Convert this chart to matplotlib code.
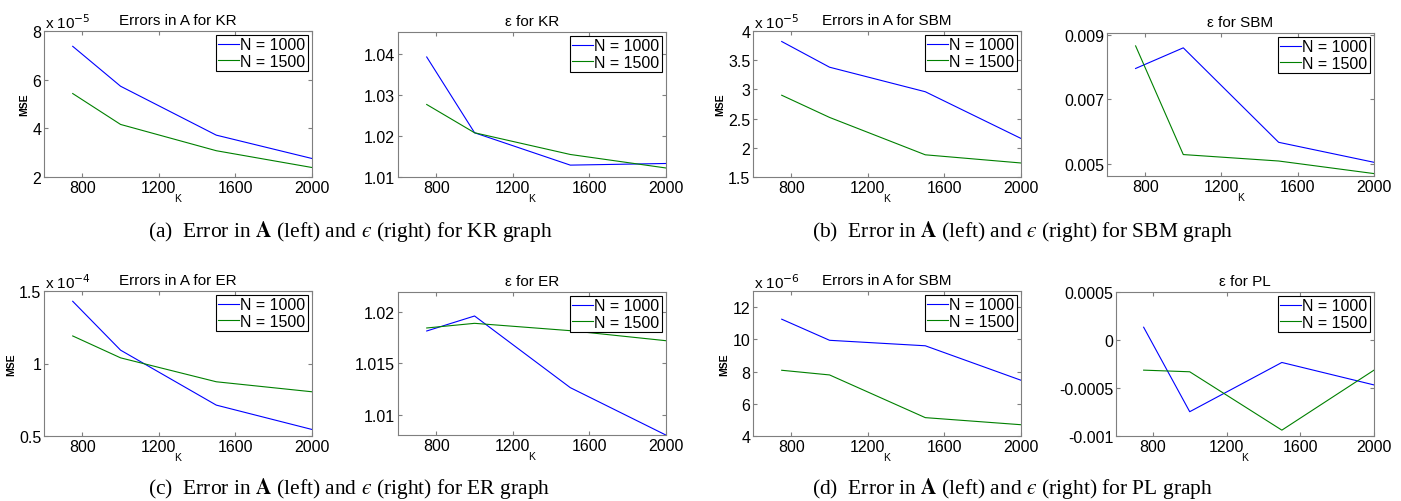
import matplotlib
matplotlib.use("Agg")
import matplotlib.pyplot as plt
from matplotlib.ticker import FuncFormatter

plt.rcParams['font.family'] = ['Liberation Sans', 'DejaVu Sans']
plt.rcParams['mathtext.fontset'] = 'stix'

# number of clusters K on the x axis
k_values = [750, 1000, 1500, 2000]
legend_labels = ["N = 1000", "N = 1500"]

# KR graph (MSE in units of 1e-5)
kr_mse_1000 = [7.37, 5.73, 3.72, 2.76]
kr_mse_1500 = [5.43, 4.16, 3.08, 2.39]
kr_eps_1000 = [1.0393, 1.0208, 1.0129, 1.0133]
kr_eps_1500 = [1.0277, 1.0208, 1.0155, 1.0122]

# SBM graph (MSE in units of 1e-5)
sbm_mse_1000 = [3.82, 3.38, 2.96, 2.16]
sbm_mse_1500 = [2.90, 2.52, 1.88, 1.74]
sbm_eps_1000 = [0.00796, 0.00860, 0.00567, 0.00505]
sbm_eps_1500 = [0.00866, 0.00529, 0.00509, 0.00470]

# ER graph (MSE in units of 1e-4)
er_mse_1000 = [1.429, 1.092, 0.713, 0.545]
er_mse_1500 = [1.190, 1.039, 0.874, 0.805]
er_eps_1000 = [1.01813, 1.01958, 1.01265, 1.00806]
er_eps_1500 = [1.01842, 1.01887, 1.01816, 1.01719]

# PL graph (MSE in units of 1e-6)
pl_mse_1000 = [11.25, 9.94, 9.60, 7.46]
pl_mse_1500 = [8.08, 7.79, 5.14, 4.70]
pl_eps_1000 = [0.000133, -0.000747, -0.000234, -0.000468]
pl_eps_1500 = [-0.000314, -0.000331, -0.000939, -0.000314]

W, H = 1401, 502
fig = plt.figure(figsize=(W / 100, H / 100), dpi=100)

FRAME = "#7f7f7f"


def make_axes(left, top, right, bottom):
    return fig.add_axes([left / W, 1 - bottom / H, (right - left) / W, (bottom - top) / H])


def panel(rect, y1, y2, title, ylim, yticks, scale=None, mse=False):
    ax = make_axes(*rect)
    ax.plot(k_values, y1, color=(0, 0, 1), lw=0.8, label=legend_labels[0])
    ax.plot(k_values, y2, color=(0, 0.5, 0), lw=0.8, label=legend_labels[1])
    ax.set_xlim(600, 2000)
    ax.set_ylim(*ylim)
    ax.set_xticks([800, 1200, 1600, 2000])
    ax.set_yticks(yticks)
    ax.yaxis.set_major_formatter(FuncFormatter(lambda v, p: "%g" % round(v, 6)))
    ax.tick_params(direction="in", top=True, right=True, length=3,
                   color=FRAME, labelsize=11.5, pad=2)
    for s in ax.spines.values():
        s.set_color(FRAME)
        s.set_linewidth(0.8)
    ax.set_title(title, fontsize=11, pad=5)
    ax.set_xlabel("K", fontsize=7.5, labelpad=-1)
    if mse:
        ax.set_ylabel("MSE", fontsize=7.5, fontweight="bold", labelpad=2)
    if scale is not None:
        ax.text(0.005, 1.0, "x 10$^{%d}$" % scale, transform=ax.transAxes,
                fontsize=11, ha="left", va="bottom",
                math_fontfamily="dejavusans")
    leg = ax.legend(loc="upper right", fontsize=11.5, handlelength=1.3,
                    handletextpad=0.1, borderaxespad=0.25, borderpad=0.15,
                    labelspacing=0.1, fancybox=False, framealpha=1)
    leg.get_frame().set_edgecolor("black")
    leg.get_frame().set_linewidth(0.8)
    return ax


panel((44, 32, 312, 178), kr_mse_1000, kr_mse_1500, "Errors in A for KR",
      (2, 8), [2, 4, 6, 8], scale=-5, mse=True)
panel((398, 33, 666, 178), kr_eps_1000, kr_eps_1500, "ε for KR",
      (1.01, 1.0454), [1.01, 1.02, 1.03, 1.04])
panel((753, 32, 1021, 178), sbm_mse_1000, sbm_mse_1500, "Errors in A for SBM",
      (1.5, 4), [1.5, 2, 2.5, 3, 3.5, 4], scale=-5, mse=True)
panel((1107, 34, 1374, 177), sbm_eps_1000, sbm_eps_1500, "ε for SBM",
      (0.004625, 0.00906), [0.005, 0.007, 0.009])
panel((44, 292, 312, 437), er_mse_1000, er_mse_1500, "Errors in A for ER",
      (0.5, 1.5), [0.5, 1, 1.5], scale=-4, mse=True)
panel((398, 293, 666, 436), er_eps_1000, er_eps_1500, "ε for ER",
      (1.00807, 1.0219), [1.01, 1.015, 1.02])
panel((753, 292, 1021, 437), pl_mse_1000, pl_mse_1500, "Errors in A for SBM",
      (4, 13), [4, 6, 8, 10, 12], scale=-6, mse=True)
panel((1116, 293, 1374, 437), pl_eps_1000, pl_eps_1500, "ε for PL",
      (-0.001, 0.0005), [-0.001, -0.0005, 0, 0.0005])

captions = [
    (148, 232, "KR"),
    (812, 232, "SBM"),
    (148, 489, "ER"),
    (812, 489, "PL"),
]
letters = "abcd"
for (cx, cy, name), letter in zip(captions, letters):
    fig.text(cx / W, 1 - cy / H,
             "(%s)  Error in $\\mathbf{A}$ (left) and $ϵ$ (right) for %s graph" % (letter, name),
             family="Liberation Serif", fontsize=15.5, ha="left", va="center")

fig.savefig("out.png", dpi=100)
